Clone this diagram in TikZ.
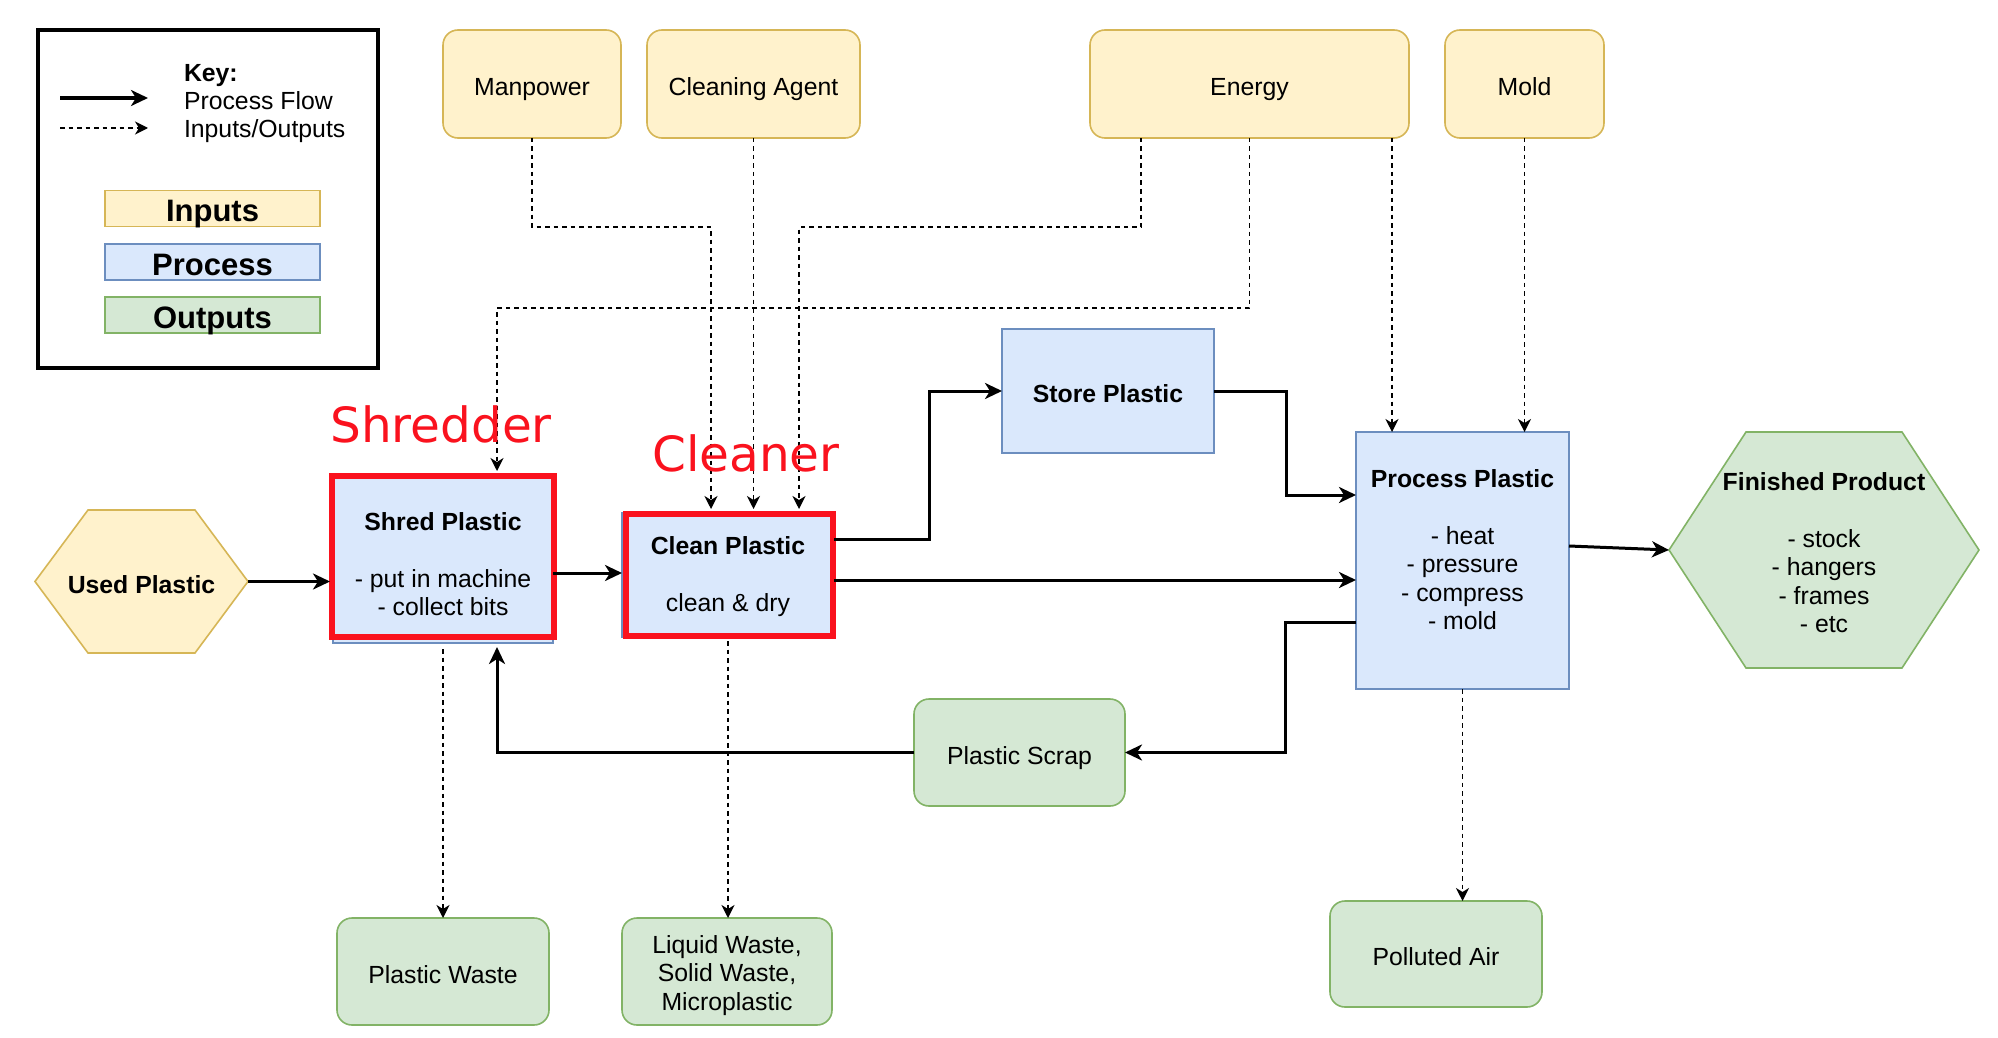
\documentclass[tikz,border=0pt]{standalone}
\usepackage{fontspec}
\setmainfont{Liberation Sans}
\newfontfamily\redfont{DejaVu Sans}
\usetikzlibrary{arrows.meta,backgrounds}
\definecolor{infill}{HTML}{FFF2CC}
\definecolor{indraw}{HTML}{D6B656}
\definecolor{prfill}{HTML}{DAE8FC}
\definecolor{prdraw}{HTML}{6C8EBF}
\definecolor{oufill}{HTML}{D5E8D4}
\definecolor{oudraw}{HTML}{82B366}
\definecolor{hired}{RGB}{250,18,30}
\tikzset{
  txt/.style={font=\fontsize{24.8}{28.5}\selectfont, align=center, inner sep=0pt, outer sep=0pt, text height=23pt, text depth=0pt},
  inbox/.style={txt, draw=indraw, fill=infill, line width=1.6pt, rounded corners=15pt},
  prbox/.style={txt, draw=prdraw, fill=prfill, line width=1.6pt},
  oubox/.style={txt, draw=oudraw, fill=oufill, line width=1.6pt, rounded corners=15pt},
  hexin/.style={draw=indraw, fill=infill, line width=1.6pt},
  hexout/.style={draw=oudraw, fill=oufill, line width=1.6pt},
  keybox/.style={txt, font=\fontsize{31}{36}\selectfont\bfseries, text height=27pt, line width=1.6pt, minimum width=215pt, minimum height=36pt},
  flow/.style={line width=3pt, -{Stealth[length=17pt,width=16pt,inset=5pt]}},
  io/.style={line width=1.5pt, dash pattern=on 4.5pt off 4pt, -{Stealth[length=13pt,width=13pt,inset=4pt]}},
  hilite/.style={draw=hired, line width=6pt},
  redlbl/.style={font=\redfont\fontsize{48.5}{55}\selectfont, text=hired, inner sep=0pt, anchor=base},
}
\begin{document}
\begin{tikzpicture}[x=1pt,y=-1pt]
\useasboundingbox (0,0) rectangle (1998,1038);

% legend
\node[draw, line width=3.5pt, minimum width=340pt, minimum height=338pt, inner sep=0pt, outer sep=0pt] (legend) at (208,199) {};
\node[txt, anchor=base west] (keyt) at (184,82) {\textbf{Key:}};
\node[txt, anchor=base west] (keyf) at (184,110) {Process Flow};
\node[txt, anchor=base west] (keyio) at (184,138) {Inputs/Outputs};
\coordinate (k1) at (60,98);
\coordinate (k2) at (148,98);
\coordinate (k3) at (60,128);
\coordinate (k4) at (148,128);
\draw[flow, line width=3.5pt] (k1) -- (k2);
\draw[io] (k3) -- (k4);
\node[keybox, draw=indraw, fill=infill] (kin) at (212.5,208.5) {Inputs};
\node[keybox, draw=prdraw, fill=prfill] (kpr) at (212.5,262) {Process};
\node[keybox, draw=oudraw, fill=oufill] (kout) at (212.5,315) {Outputs};

% inputs
\node[inbox, minimum width=178pt, minimum height=108pt] (man) at (532,84) {Manpower};
\node[inbox, minimum width=213pt, minimum height=108pt] (agent) at (753.5,84) {Cleaning Agent};
\node[inbox, minimum width=319pt, minimum height=108pt] (energy) at (1249.5,84) {Energy};
\node[inbox, minimum width=159pt, minimum height=108pt] (mold) at (1524.5,84) {Mold};

% hexagons
\node[txt, minimum width=213pt, minimum height=143pt] (used) at (141.5,581.5) {\textbf{Used Plastic}};
\node[txt, minimum width=310pt, minimum height=236pt, text height=165pt] (fin) at (1824,550) {\textbf{Finished Product}\\[28.5pt]- stock\\- hangers\\- frames\\- etc};

% process
\node[prbox, minimum width=220pt, minimum height=167pt, text height=112pt] (shred) at (443,559.5) {\textbf{Shred Plastic}\\[28.5pt]- put in machine\\- collect bits};
\node[prbox, minimum width=212pt, minimum height=124pt, text height=72pt] (clean) at (728,575) {\textbf{Clean Plastic}\\[28.5pt]clean \& dry};
\node[prbox, minimum width=212pt, minimum height=124pt] (store) at (1108,391) {\textbf{Store Plastic}};
\node[prbox, minimum width=213pt, minimum height=257pt, text height=138pt] (pp) at (1462.5,560.5) {\textbf{Process Plastic}\\[28.5pt]- heat\\- pressure\\- compress\\- mold};

% outputs
\node[oubox, minimum width=211pt, minimum height=107pt] (scrap) at (1019.5,752.5) {Plastic Scrap};
\node[oubox, minimum width=212pt, minimum height=107pt] (pwaste) at (443,971.5) {Plastic Waste};
\node[oubox, minimum width=210pt, minimum height=107pt, text height=77pt] (liquid) at (727,971.5) {Liquid Waste,\\Solid Waste,\\Microplastic};
\node[oubox, minimum width=212pt, minimum height=106pt] (air) at (1436,954) {Polluted Air};

\begin{pgfonlayer}{background}
\fill[white] (0,0) rectangle (1998,1038);
\draw[hexin] (used.west) -- ([xshift=53pt]used.north west) -- ([xshift=-53pt]used.north east) -- (used.east) -- ([xshift=-53pt]used.south east) -- ([xshift=53pt]used.south west) -- cycle;
\draw[hexout] (fin.west) -- ([xshift=77pt]fin.north west) -- ([xshift=-77pt]fin.north east) -- (fin.east) -- ([xshift=-77pt]fin.south east) -- ([xshift=77pt]fin.south west) -- cycle;
\end{pgfonlayer}

% highlight frames
\draw[hilite] ([xshift=-1pt]shred.north west) rectangle ([xshift=1pt,yshift=6.5pt]shred.south east);
\draw[hilite] ([xshift=4pt,yshift=-1pt]clean.north west) rectangle ([xshift=-1pt,yshift=1pt]clean.south east);

% process flow
\draw[flow, shorten >=3pt] (used.east) -- (used.east -| shred.west);
\draw[flow] (shred.east |- 0,573) -- (clean.west |- 0,573);
\draw[flow] (clean.east |- 0,539) -- (929,539) |- (store.west);
\draw[flow] (clean.east |- 0,580) -- (pp.west |- 0,580);
\draw[flow] (store.east) -- (1286,391) |- (pp.west |- 0,495);
\draw[flow] (pp.west |- 0,622) -- (1285,622) |- (scrap.east);
\draw[flow, shorten >=4pt] (scrap.west) -| (shred.south -| 497,0);
\draw[flow] (pp.east |- 0,546) -- (fin.west);

% inputs / outputs
\draw[io, shorten >=4pt] (man.south) |- (711,227) -- (clean.north -| 711,0);
\draw[io, shorten >=4pt] (agent.south) -- (agent.south |- clean.north);
\draw[io, shorten >=4pt] (energy.south -| 1141,0) |- (799,227) -- (clean.north -| 799,0);
\draw[io, shorten >=5pt] (energy.south) |- (497,308) -- (shred.north -| 497,0);
\draw[io] (energy.south -| 1392,0) -- (pp.north -| 1392,0);
\draw[io] (mold.south) -- (mold.south |- pp.north);
\draw[io, shorten <=6pt] (shred.south) -- (pwaste.north);
\draw[io, shorten <=4pt] (clean.south) -- (clean.south |- liquid.north);
\draw[io] (pp.south) -- (pp.south |- air.north);

% red labels
\node[redlbl] (lshred) at (441,442) {Shredder};
\node[redlbl] (lclean) at (746,471) {Cleaner};
\end{tikzpicture}
\end{document}
